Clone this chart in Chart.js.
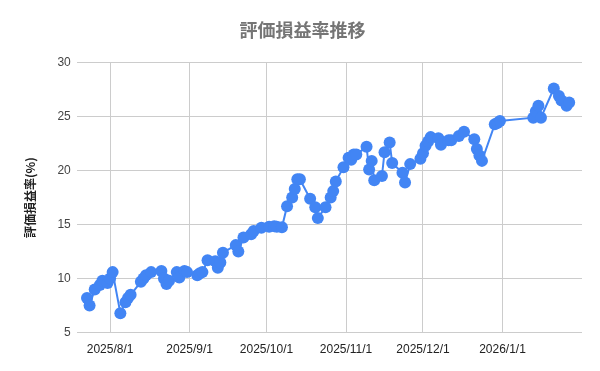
<!DOCTYPE html>
<html>
<head>
<meta charset="utf-8">
<script src="https://cdn.jsdelivr.net/npm/chart.js@4"></script>
<style>
    html, body { margin: 0; padding: 0; background: #fff; }
    #wrap { width: 600px; height: 371px; }
</style>
</head>
<body>
<div id="wrap"><canvas id="myChart" width="600" height="371"></canvas></div>
<script>
// dates of each observation
const dates = [
    "2025/7/23", "2025/7/24", "2025/7/26", "2025/7/28", "2025/7/29", "2025/7/31",
    "2025/8/1", "2025/8/2", "2025/8/5", "2025/8/7", "2025/8/8", "2025/8/9",
    "2025/8/13", "2025/8/14", "2025/8/15", "2025/8/17", "2025/8/21", "2025/8/22",
    "2025/8/23", "2025/8/24", "2025/8/27", "2025/8/28", "2025/8/30", "2025/8/31",
    "2025/9/4", "2025/9/5", "2025/9/6", "2025/9/8", "2025/9/11", "2025/9/12",
    "2025/9/13", "2025/9/14", "2025/9/19", "2025/9/20", "2025/9/22", "2025/9/25",
    "2025/9/26", "2025/9/29", "2025/10/2", "2025/10/4", "2025/10/5", "2025/10/7",
    "2025/10/9", "2025/10/11", "2025/10/12", "2025/10/13", "2025/10/14", "2025/10/18",
    "2025/10/20", "2025/10/21", "2025/10/24", "2025/10/26", "2025/10/27", "2025/10/28",
    "2025/10/31", "2025/11/2", "2025/11/3", "2025/11/4", "2025/11/5", "2025/11/9",
    "2025/11/10", "2025/11/11", "2025/11/12", "2025/11/15", "2025/11/16", "2025/11/18",
    "2025/11/19", "2025/11/23", "2025/11/24", "2025/11/26", "2025/11/30", "2025/12/1",
    "2025/12/2", "2025/12/3", "2025/12/4", "2025/12/7", "2025/12/8", "2025/12/11",
    "2025/12/12", "2025/12/15", "2025/12/17", "2025/12/21", "2025/12/22", "2025/12/23",
    "2025/12/24", "2025/12/29", "2025/12/30", "2025/12/31", "2026/1/13", "2026/1/14",
    "2026/1/15", "2026/1/16", "2026/1/21", "2026/1/23", "2026/1/24", "2026/1/26",
    "2026/1/27"
];

// 評価損益率 (%)
const rates = [
    8.2, 7.5, 9.0, 9.4, 9.8, 9.6,
    10.0, 10.6, 6.8, 7.8, 8.2, 8.5,
    9.7, 10.0, 10.3, 10.6, 10.7, 10.0,
    9.5, 9.8, 10.6, 10.1, 10.7, 10.6,
    10.3, 10.5, 10.6, 11.7, 11.6, 11.0,
    11.5, 12.4, 13.1, 12.5, 13.8, 14.1,
    14.4, 14.7, 14.8, 14.85, 14.8, 14.75,
    16.7, 17.5, 18.3, 19.2, 19.2, 17.4,
    16.6, 15.6, 16.6, 17.5, 18.1, 19.0,
    20.3, 21.2, 21.0, 21.5, 21.5, 22.2,
    20.1, 20.9, 19.1, 19.5, 21.7, 22.6,
    20.7, 19.8, 18.9, 20.6, 21.1, 21.6,
    22.3, 22.7, 23.1, 23.0, 22.4, 22.8,
    22.8, 23.2, 23.6, 22.9, 22.0, 21.4,
    20.9, 24.3, 24.4, 24.6, 24.9, 25.5,
    26.0, 24.9, 27.6, 26.9, 26.5, 26.0,
    26.3
];

const tickDates = ["2025/8/1", "2025/9/1", "2025/10/1", "2025/11/1", "2025/12/1", "2026/1/1"];
const axisStart = "2025/7/19";
const axisEnd = "2026/2/1";

// days since 2025/8/1
function toDay(s) {
    let p = s.split("/").map(Number);
    return (Date.UTC(p[0], p[1] - 1, p[2]) - Date.UTC(2025, 7, 1)) / 86400000;
}

let points = [];
for (var i = 0; i < dates.length; i++) {
    points.push({ x: toDay(dates[i]), y: rates[i] });
}

let tickLabels = {};
tickDates.forEach(s => { tickLabels[toDay(s)] = s; });

let myChart = document.getElementById("myChart");

new Chart(myChart, {
    type: "line",
    data: {
        datasets: [{
            label: "評価損益率",
            data: points,
            borderColor: "#4285F4",
            backgroundColor: "#4285F4",
            borderWidth: 2,
            pointRadius: 6,
            pointHoverRadius: 6,
            pointBorderWidth: 0,
            tension: 0,
        }],
    },
    options: {
        responsive: false,
        animation: false,
        layout: {
            padding: { left: 23, right: 18, top: 8, bottom: 4 },
        },
        plugins: {
            legend: { display: false },
            title: {
                display: true,
                text: "評価損益率推移",
                color: "#757575",
                font: { family: "'Noto Sans CJK JP'", size: 18, weight: "bold" },
                padding: { top: 11, bottom: 22 },
            },
            tooltip: { enabled: false },
        },
        scales: {
            x: {
                type: "linear",
                min: toDay(axisStart),
                max: toDay(axisEnd),
                afterBuildTicks: axis => {
                    axis.ticks = tickDates.map(s => ({ value: toDay(s) }));
                },
                ticks: {
                    autoSkip: false,
                    maxRotation: 0,
                    padding: 10,
                    color: "#222",
                    font: { family: "'Liberation Sans'", size: 12 },
                    callback: v => tickLabels[v] || "",
                },
                grid: { color: "#cccccc", drawTicks: false },
                border: { display: false },
            },
            y: {
                min: 5,
                max: 30,
                ticks: {
                    stepSize: 5,
                    padding: 6,
                    color: "#444",
                    font: { family: "'Liberation Sans'", size: 12 },
                },
                grid: { color: "#cccccc", drawTicks: false },
                border: { display: false },
                title: {
                    display: true,
                    text: "評価損益率(%)",
                    color: "#222",
                    font: { family: "'Noto Sans CJK JP'", size: 12, weight: "bold" },
                    padding: { top: 0, bottom: 14 },
                },
            },
        },
    },
});
</script>
</body>
</html>
